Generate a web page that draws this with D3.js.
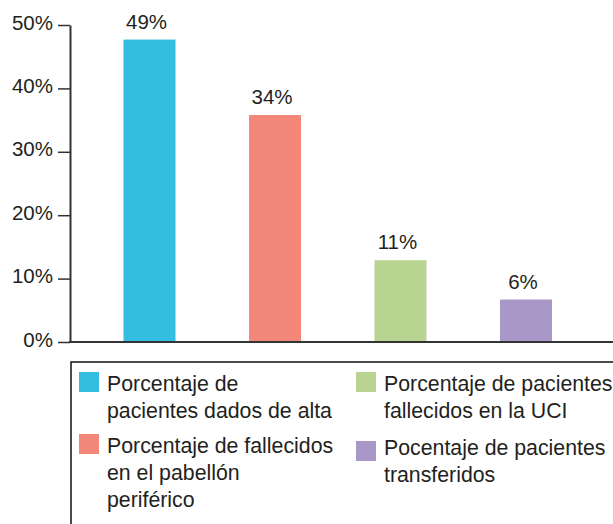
<!DOCTYPE html>
<html>
<head>
<meta charset="utf-8">
<script src="https://cdn.jsdelivr.net/npm/d3@7"></script>
<style>
    body { margin: 0; background: #fff; }
    svg { display: block; font-family: "Liberation Sans", Arial, Helvetica, sans-serif; }
</style>
</head>
<body>
<svg id="chart" width="613" height="524"></svg>
<script>
// chart data
const categories = ["alta", "pabellon", "uci", "transferidos"];
const barValues = [47.7, 35.8, 12.9, 6.7];       // bar heights as drawn
const valueLabels = ["49%", "34%", "11%", "6%"];  // printed labels
const colors = ["#33bde0", "#f2877a", "#b9d491", "#a998c7"];
const yTicks = [0, 10, 20, 30, 40, 50];
const legendLines = [
    ["Porcentaje de", "pacientes dados de alta"],
    ["Porcentaje de fallecidos", "en el pabellón", "periférico"],
    ["Porcentaje de pacientes", "fallecidos en la UCI"],
    ["Pocentaje de pacientes", "transferidos"]
];

const axisX = 70, axisBottom = 342, axisTop = 25;
const barWidth = 52;
const textColor = "#231f20";

const svg = d3.select("#chart");

const x = d3.scalePoint()
    .domain(categories)
    .range([149.5, 526]);

const y = d3.scaleLinear()
    .domain([0, 50])
    .range([axisBottom, axisTop]);

// bars
svg.selectAll("rect.bar")
    .data(categories)
    .enter().append("rect")
    .attr("class", "bar")
    .attr("x", d => x(d) - barWidth / 2)
    .attr("y", (d, i) => y(barValues[i]))
    .attr("width", barWidth)
    .attr("height", (d, i) => y(0) - y(barValues[i]))
    .attr("fill", (d, i) => colors[i]);

// value labels above bars
svg.selectAll("text.val")
    .data(categories)
    .enter().append("text")
    .attr("class", "val")
    .attr("x", d => x(d) - 3)
    .attr("y", (d, i) => y(barValues[i]) - 11)
    .attr("text-anchor", "middle")
    .style("font-size", "20.5px")
    .style("fill", textColor)
    .text((d, i) => valueLabels[i]);

// y axis
const yAxis = svg.append("g")
    .attr("transform", `translate(${axisX},0)`)
    .call(d3.axisLeft(y)
        .tickValues(yTicks)
        .tickSize(12)
        .tickSizeOuter(0)
        .tickPadding(5)
        .tickFormat(d => d + "%"));
yAxis.select(".domain").attr("stroke", "#333").attr("stroke-width", 2);
yAxis.selectAll(".tick line").attr("stroke", "#333").attr("stroke-width", 1.5);
yAxis.selectAll(".tick text")
    .attr("dy", "0.2em")
    .style("font-size", "20.5px")
    .style("font-family", "'Liberation Sans', Arial, sans-serif")
    .style("fill", textColor);

// x baseline
svg.append("line")
    .attr("x1", axisX - 1)
    .attr("x2", 613)
    .attr("y1", y(0))
    .attr("y2", y(0))
    .attr("stroke", "#333")
    .attr("stroke-width", 2);

// legend box (runs off the right and bottom edges)
svg.append("rect")
    .attr("x", 71)
    .attr("y", 362)
    .attr("width", 600)
    .attr("height", 200)
    .attr("fill", "none")
    .attr("stroke", "#111")
    .attr("stroke-width", 1.5);

const legendPos = [
    {sx: 79, sy: 372, tx: 107, ty: 391},
    {sx: 79, sy: 434, tx: 107, ty: 453},
    {sx: 356, sy: 372, tx: 384, ty: 391},
    {sx: 356, sy: 441, tx: 384, ty: 455}
];

const legend = svg.selectAll("g.legend")
    .data(categories)
    .enter().append("g")
    .attr("class", "legend");

legend.append("rect")
    .attr("x", (d, i) => legendPos[i].sx)
    .attr("y", (d, i) => legendPos[i].sy)
    .attr("width", 20)
    .attr("height", 20)
    .attr("fill", (d, i) => colors[i]);

legend.each(function(d, i) {
    const t = d3.select(this).append("text")
        .attr("x", legendPos[i].tx)
        .attr("y", legendPos[i].ty)
        .style("font-size", "21.3px")
        .style("fill", textColor);
    legendLines[i].forEach((line, k) => {
        t.append("tspan")
            .attr("x", legendPos[i].tx)
            .attr("dy", k === 0 ? 0 : 27)
            .text(line);
    });
});
</script>
</body>
</html>
